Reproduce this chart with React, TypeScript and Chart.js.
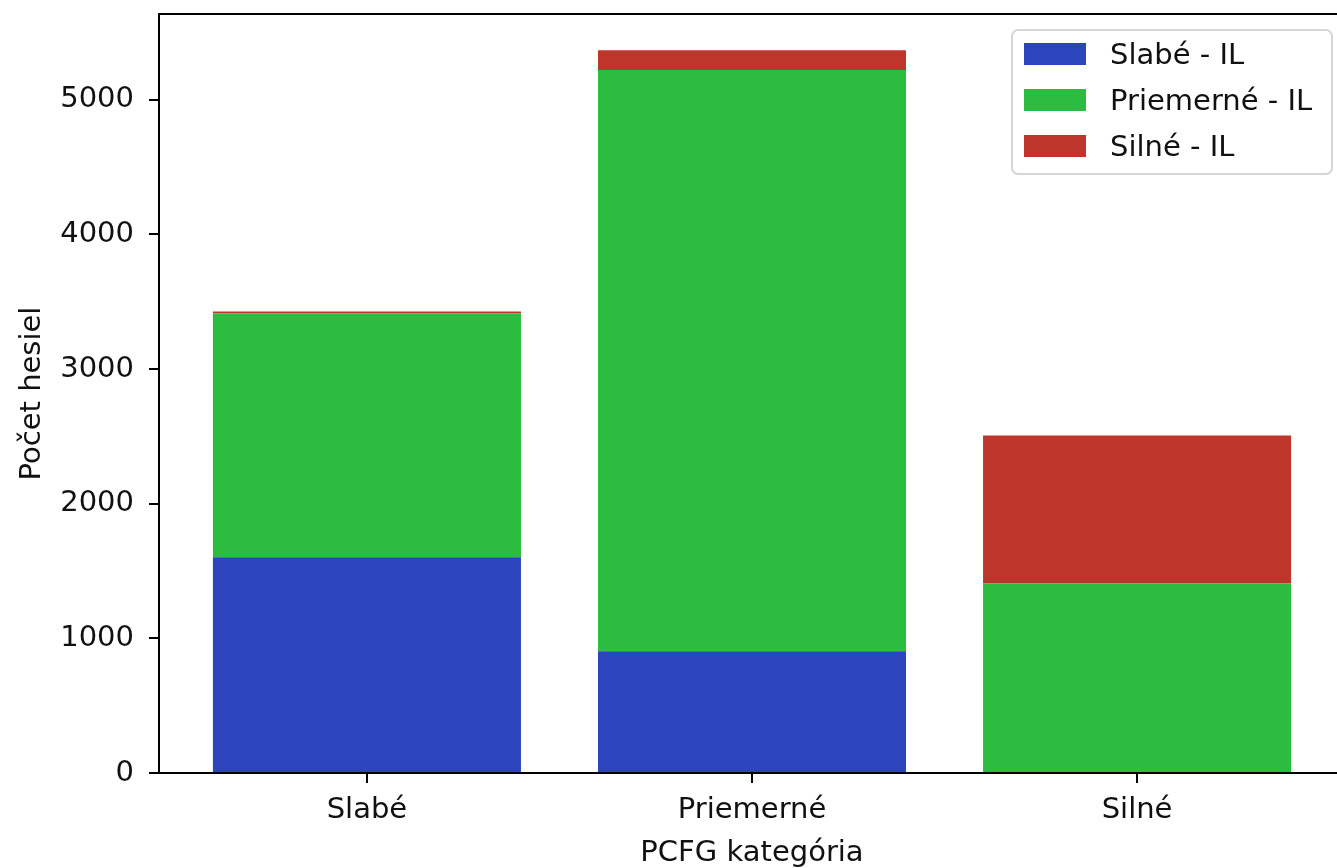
import React, { useEffect, useRef } from 'react';
import { Chart, registerables } from 'chart.js';

Chart.register(...registerables);

// ---- data ----
const categories = ['Slabé', 'Priemerné', 'Silné'];
const seriesLabels = ['Slabé - IL', 'Priemerné - IL', 'Silné - IL'];
const weakValues = [1602, 905, 0];
const mediumValues = [1810, 4315, 1407];
const strongValues = [15, 148, 1100];
const yTicks = [0, 1000, 2000, 3000, 4000, 5000];
const seriesColors = ['#2C45BC', '#2CBD40', '#BE362B'];

const FONT = "'DejaVu Sans', sans-serif";
const FONT_SIZE = 29;
const TEXT_COLOR = '#111111';
const W = 1360;
const H = 868;

const framePlugin = {
  id: 'frame',
  afterDatasetsDraw(chart: any) {
    const { ctx, chartArea: a } = chart;
    ctx.save();
    ctx.strokeStyle = '#000';
    ctx.lineWidth = 2;
    ctx.strokeRect(a.left, a.top, a.right - a.left, a.bottom - a.top);
    ctx.restore();
  },
};

const legendPlugin = {
  id: 'mplLegend',
  afterDraw(chart: any) {
    const { ctx, chartArea: a } = chart;
    const boxW = 320;
    const boxH = 144;
    const boxR = a.right - 13;
    const boxT = a.top + 16;
    const boxL = boxR - boxW;
    const r = 6;
    ctx.save();
    ctx.beginPath();
    ctx.moveTo(boxL + r, boxT);
    ctx.lineTo(boxL + boxW - r, boxT);
    ctx.arcTo(boxL + boxW, boxT, boxL + boxW, boxT + r, r);
    ctx.lineTo(boxL + boxW, boxT + boxH - r);
    ctx.arcTo(boxL + boxW, boxT + boxH, boxL + boxW - r, boxT + boxH, r);
    ctx.lineTo(boxL + r, boxT + boxH);
    ctx.arcTo(boxL, boxT + boxH, boxL, boxT + boxH - r, r);
    ctx.lineTo(boxL, boxT + r);
    ctx.arcTo(boxL, boxT, boxL + r, boxT, r);
    ctx.closePath();
    ctx.fillStyle = 'rgba(255,255,255,0.8)';
    ctx.fill();
    ctx.strokeStyle = '#d6d6d6';
    ctx.lineWidth = 2;
    ctx.stroke();

    ctx.font = `${FONT_SIZE}px ${FONT}`;
    ctx.textBaseline = 'middle';
    ctx.textAlign = 'left';
    chart.data.datasets.forEach((ds: any, i: number) => {
      const cy = boxT + 24 + 46 * i;
      ctx.fillStyle = ds.backgroundColor;
      ctx.fillRect(boxL + 12, cy - 11, 62, 22);
      ctx.fillStyle = TEXT_COLOR;
      ctx.fillText(ds.label, boxL + 98, cy + 2);
    });
    ctx.restore();
  },
};

export default function App() {
  const canvasRef = useRef<HTMLCanvasElement | null>(null);

  useEffect(() => {
    if (!canvasRef.current) return;
    const seriesValues = [weakValues, mediumValues, strongValues];
    const totals = categories.map((_, i) => seriesValues.reduce((s, arr) => s + arr[i], 0));
    const yMax = Math.max(...totals) * 1.05;
    const barPct = 0.8;
    const span = categories.length - 1 + barPct;
    const xMin = -barPct / 2 - 0.05 * span;
    const xMax = categories.length - 1 + barPct / 2 + 0.05 * span;

    const tickFont = { family: FONT, size: FONT_SIZE };

    const chart = new Chart(canvasRef.current, {
      type: 'bar',
      data: {
        datasets: seriesValues.map((vals, si) => ({
          label: seriesLabels[si],
          data: categories.map((_, i) => ({ x: i, y: vals[i] })),
          backgroundColor: seriesColors[si],
          borderWidth: 0,
          barPercentage: barPct,
          categoryPercentage: 1,
        })),
      },
      options: {
        animation: false,
        responsive: false,
        devicePixelRatio: 1,
        layout: { padding: { top: 14, right: W - 1345, left: 0, bottom: 0 } },
        plugins: {
          legend: { display: false },
          tooltip: { enabled: false },
        },
        scales: {
          x: {
            type: 'linear',
            min: xMin,
            max: xMax,
            offset: false,
            stacked: true,
            afterBuildTicks: (s: any) => {
              s.ticks = categories.map((_, i) => ({ value: i }));
            },
            afterFit: (s: any) => {
              s.height = H - 773;
              s.paddingLeft = 0;
              s.paddingRight = 0;
            },
            ticks: {
              callback: (v: any) => categories[Math.round(Number(v))] ?? '',
              font: tickFont,
              color: TEXT_COLOR,
              padding: 10,
              maxRotation: 0,
              autoSkip: false,
            },
            grid: {
              offset: false,
              drawOnChartArea: false,
              drawTicks: true,
              tickLength: 10,
              tickColor: '#000',
              tickWidth: 2,
              color: '#000',
              lineWidth: 2,
            },
            border: { display: false },
            title: {
              display: true,
              text: 'PCFG kategória',
              font: tickFont,
              color: TEXT_COLOR,
              padding: { top: 0, bottom: -3 },
            },
          },
          y: {
            type: 'linear',
            min: 0,
            max: yMax,
            stacked: true,
            afterBuildTicks: (s: any) => {
              s.ticks = yTicks.map((v) => ({ value: v }));
            },
            afterFit: (s: any) => {
              s.width = 159;
              s.paddingTop = 0;
              s.paddingBottom = 0;
            },
            ticks: {
              font: tickFont,
              color: TEXT_COLOR,
              padding: 15,
              callback: (v: any) => String(v),
            },
            grid: {
              drawOnChartArea: false,
              drawTicks: true,
              tickLength: 10,
              tickColor: '#000',
              tickWidth: 2,
              color: '#000',
              lineWidth: 2,
            },
            border: { display: false },
            title: {
              display: true,
              text: 'Počet hesiel',
              font: tickFont,
              color: TEXT_COLOR,
              padding: { top: 15, bottom: 0 },
            },
          },
        },
      },
      plugins: [framePlugin, legendPlugin],
    } as any);

    return () => chart.destroy();
  }, []);

  return (
    <div
      style={{
        position: 'fixed',
        left: 0,
        top: 0,
        width: 1337,
        height: 868,
        overflow: 'hidden',
        background: '#fff',
      }}
    >
      <canvas ref={canvasRef} width={W} height={H} style={{ display: 'block', width: W, height: H }} />
    </div>
  );
}
